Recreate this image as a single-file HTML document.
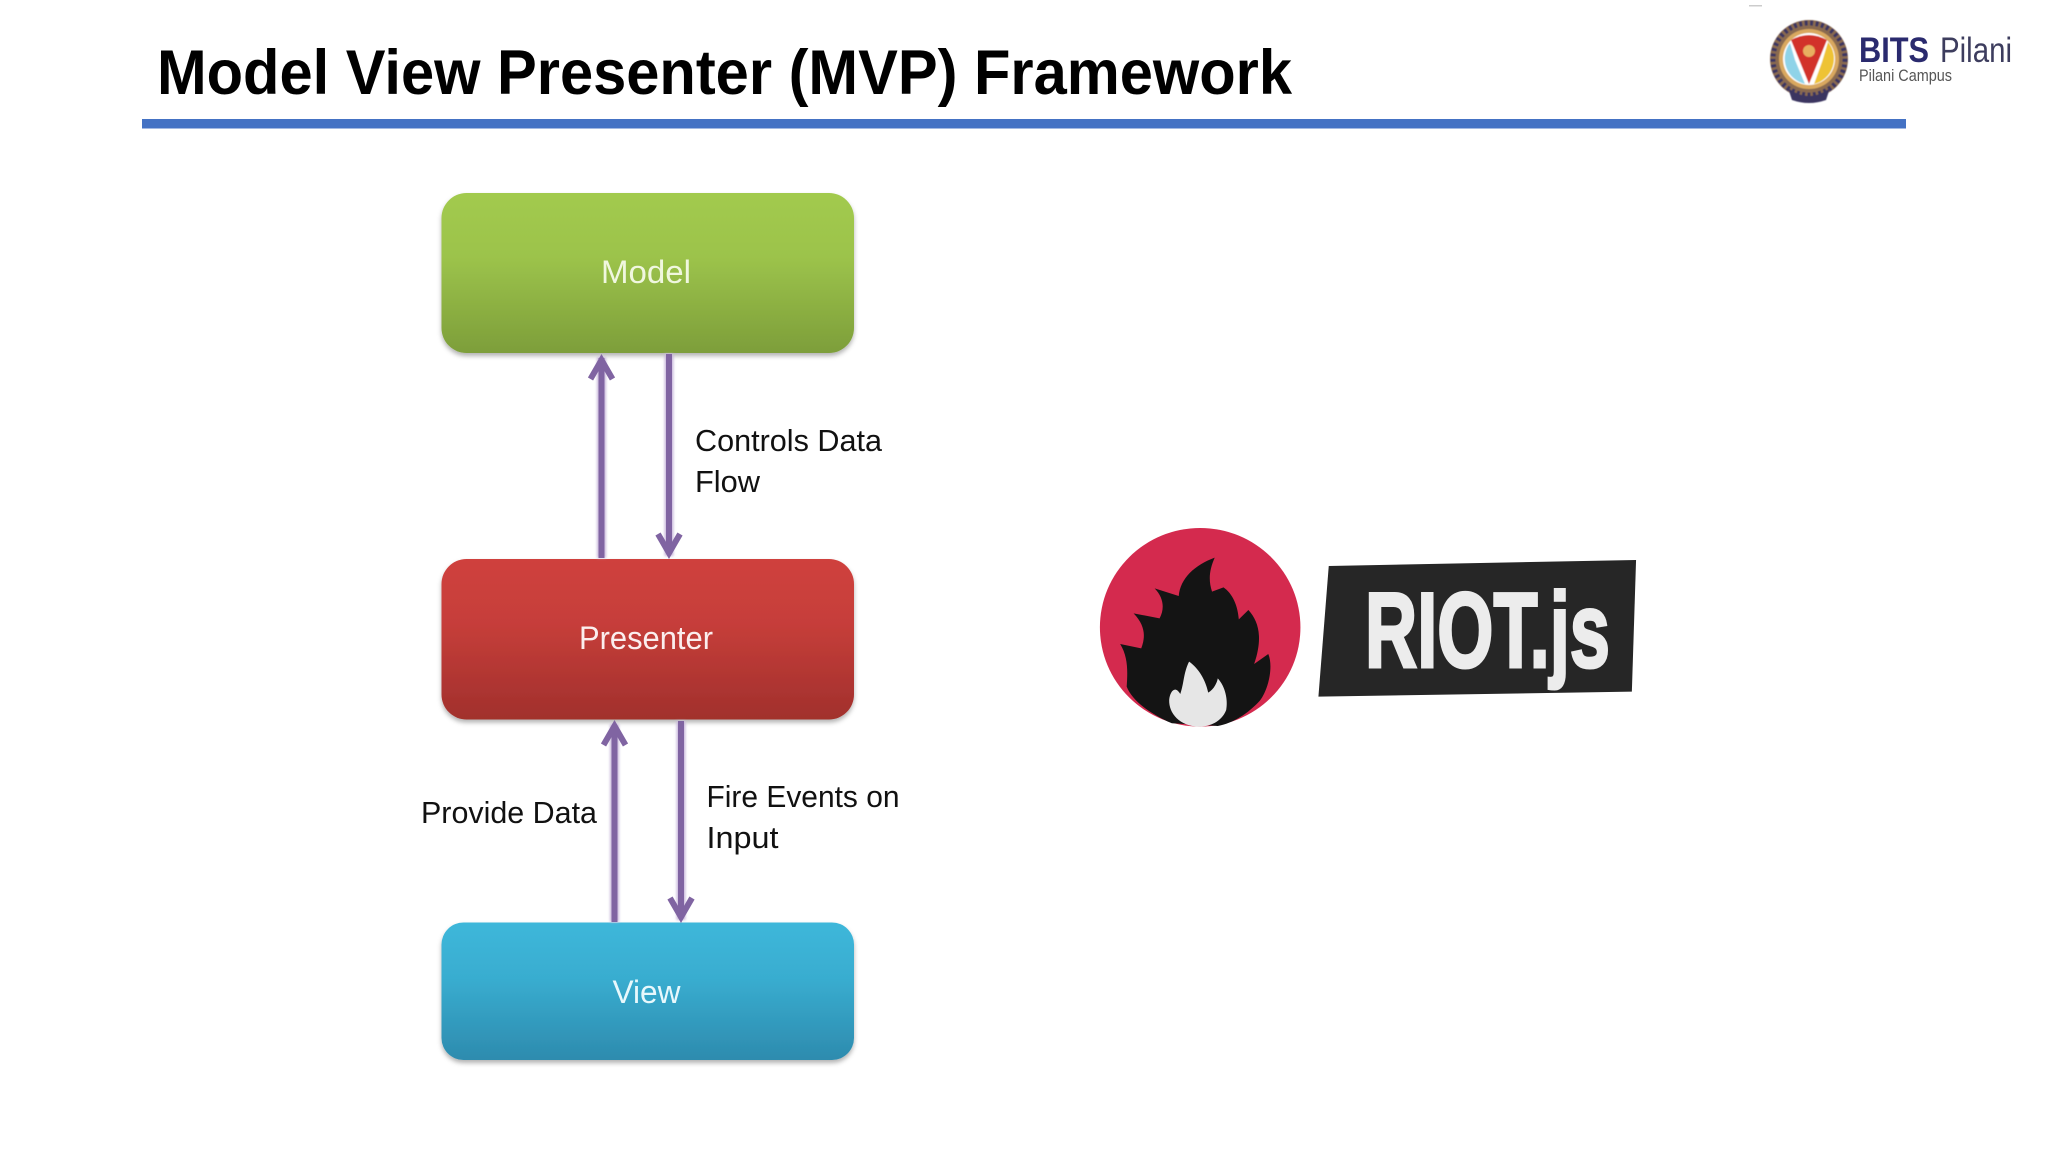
<!DOCTYPE html>
<html lang="en">
<head>
<meta charset="utf-8">
<title>Model View Presenter (MVP) Framework</title>
<style>
html,body{margin:0;padding:0;background:#fff;width:2048px;height:1152px;overflow:hidden}
svg{display:block}
text{font-family:"Liberation Sans",sans-serif}
</style>
</head>
<body>
<svg width="2048" height="1152" viewBox="0 0 2048 1152" xmlns="http://www.w3.org/2000/svg">
<defs>
<linearGradient id="g" x1="0" y1="0" x2="0" y2="1"><stop offset="0" stop-color="#a2ca4e"/><stop offset=".4" stop-color="#9cc34b"/><stop offset="1" stop-color="#7d9e3a"/></linearGradient>
<linearGradient id="r" x1="0" y1="0" x2="0" y2="1"><stop offset="0" stop-color="#cf413d"/><stop offset=".4" stop-color="#c63e3a"/><stop offset="1" stop-color="#a1302c"/></linearGradient>
<linearGradient id="b" x1="0" y1="0" x2="0" y2="1"><stop offset="0" stop-color="#3db7da"/><stop offset=".4" stop-color="#39add0"/><stop offset="1" stop-color="#2d8bae"/></linearGradient>
<filter id="s" x="-5%" y="-5%" width="110%" height="120%"><feDropShadow dx="0" dy="3" stdDeviation="2.5" flood-color="#000" flood-opacity=".3"/></filter>
<filter id="h" x="-100%" y="-5%" width="300%" height="110%"><feGaussianBlur stdDeviation="1.2"/></filter>
<filter id="soft"><feGaussianBlur stdDeviation=".6"/></filter>
</defs>

<text x="157" y="94" font-size="63" font-weight="700" fill="#000" textLength="1135" lengthAdjust="spacingAndGlyphs">Model View Presenter (MVP) Framework</text>
<rect x="142" y="119" width="1764" height="9.5" fill="#4472c4"/>
<rect x="1749" y="5" width="13" height="1.5" fill="#ccc"/>

<!-- logo -->
<g filter="url(#soft)">
<circle cx="1809" cy="59" r="39" fill="#8a6a50"/>
<circle cx="1809" cy="59" r="36" fill="none" stroke="#3a3560" stroke-width="5" stroke-dasharray="3 2.5"/>
<circle cx="1809" cy="59" r="30" fill="#d9a85e"/>
<circle cx="1809" cy="59" r="26" fill="#fff"/>
<path d="M1790 43 A26 26 0 0 0 1805 84 L1795 60Z" fill="#8fd3e8"/>
<path d="M1828 42 A26 26 0 0 1 1814 84 L1822 62Z" fill="#eec335"/>
<path d="M1791 40 Q1809 30 1827 40 L1809 84Z" fill="#d2302c"/>
<circle cx="1809" cy="51" r="6" fill="#e8b060"/>
<path d="M1788 88 Q1809 104 1830 88 L1826 100 Q1809 106 1792 100Z" fill="#3a3560"/>
</g>
<text x="1859" y="62" font-size="35" font-weight="700" fill="#2a2a6e" textLength="70" lengthAdjust="spacingAndGlyphs">BITS</text>
<text x="1940" y="62" font-size="35" fill="#3d3d5e" textLength="72" lengthAdjust="spacingAndGlyphs">Pilani</text>
<text x="1859" y="81" font-size="17" fill="#555" textLength="93" lengthAdjust="spacingAndGlyphs">Pilani Campus</text>

<!-- boxes -->
<rect x="441.5" y="193" width="412.5" height="160" rx="25" fill="url(#g)" filter="url(#s)"/>
<rect x="441.5" y="559" width="412.5" height="160.5" rx="25" fill="url(#r)" filter="url(#s)"/>
<rect x="441.5" y="922.5" width="412.5" height="137.5" rx="22" fill="url(#b)" filter="url(#s)"/>

<text x="601" y="283" font-size="32" fill="#f0f7df" textLength="90" lengthAdjust="spacingAndGlyphs">Model</text>
<text x="579" y="649" font-size="32" fill="#fbeeee" textLength="134" lengthAdjust="spacingAndGlyphs">Presenter</text>
<text x="612.5" y="1003" font-size="32" fill="#e8f8fc" textLength="68" lengthAdjust="spacingAndGlyphs">View</text>

<!-- arrow halos -->
<g stroke="#c9b8dc" stroke-width="9" fill="none" filter="url(#h)">
<path d="M601.5 558V357M669 354V556M614.5 922V724M681 721V920"/>
</g>
<!-- arrows -->
<g stroke="#8064a2" stroke-width="6" fill="none">
<path d="M601.5 558V358"/>
<path d="M590.5 379L601.5 360L612.5 379"/>
<path d="M669 354V553"/>
<path d="M658 534L669 553L680 534"/>
<path d="M614.5 922V725"/>
<path d="M603.5 745L614.5 726L625.5 745"/>
<path d="M681 721V917"/>
<path d="M670 898L681 917L692 898"/>
</g>

<!-- labels -->
<g fill="#111" font-size="31">
<text x="695" y="451" textLength="187" lengthAdjust="spacingAndGlyphs">Controls Data</text>
<text x="695" y="492" textLength="65" lengthAdjust="spacingAndGlyphs">Flow</text>
<text x="421" y="823" textLength="176" lengthAdjust="spacingAndGlyphs">Provide Data</text>
<text x="706.5" y="807" textLength="193" lengthAdjust="spacingAndGlyphs">Fire Events on</text>
<text x="706.5" y="848" textLength="72" lengthAdjust="spacingAndGlyphs">Input</text>
</g>

<!-- Riot logo -->
<g transform="translate(1080,510) scale(.3827,.3333)">
<ellipse cx="314" cy="352" rx="262" ry="298" fill="#d42a4e"/>
<path fill="#141414" d="M240 640C180 610 135 570 122 530C125 480 125 440 105 402L160 415C172 380 170 345 140 310L208 325C222 295 218 262 195 235L258 258C262 205 300 165 352 143C338 180 335 210 345 245L375 232C398 250 412 285 415 328L440 300C468 335 478 385 455 462L492 432C506 470 492 540 470 572C440 610 400 640 360 648Z"/>
<path fill="#e6e6e6" d="M285 455C310 475 328 510 335 548C350 538 358 518 360 505C380 530 387 570 382 600C370 635 340 650 310 650C260 648 232 610 233 570C235 545 248 525 262 552C272 520 270 490 285 455Z"/>
<polygon fill="#262626" points="650,168 1453,150 1442,545 623,560"/>
</g>
<text x="1365" y="667" font-size="107" font-weight="700" fill="#ececec" stroke="#ececec" stroke-width="3" textLength="245" lengthAdjust="spacingAndGlyphs">RIOT.js</text>
</svg>
</body>
</html>
